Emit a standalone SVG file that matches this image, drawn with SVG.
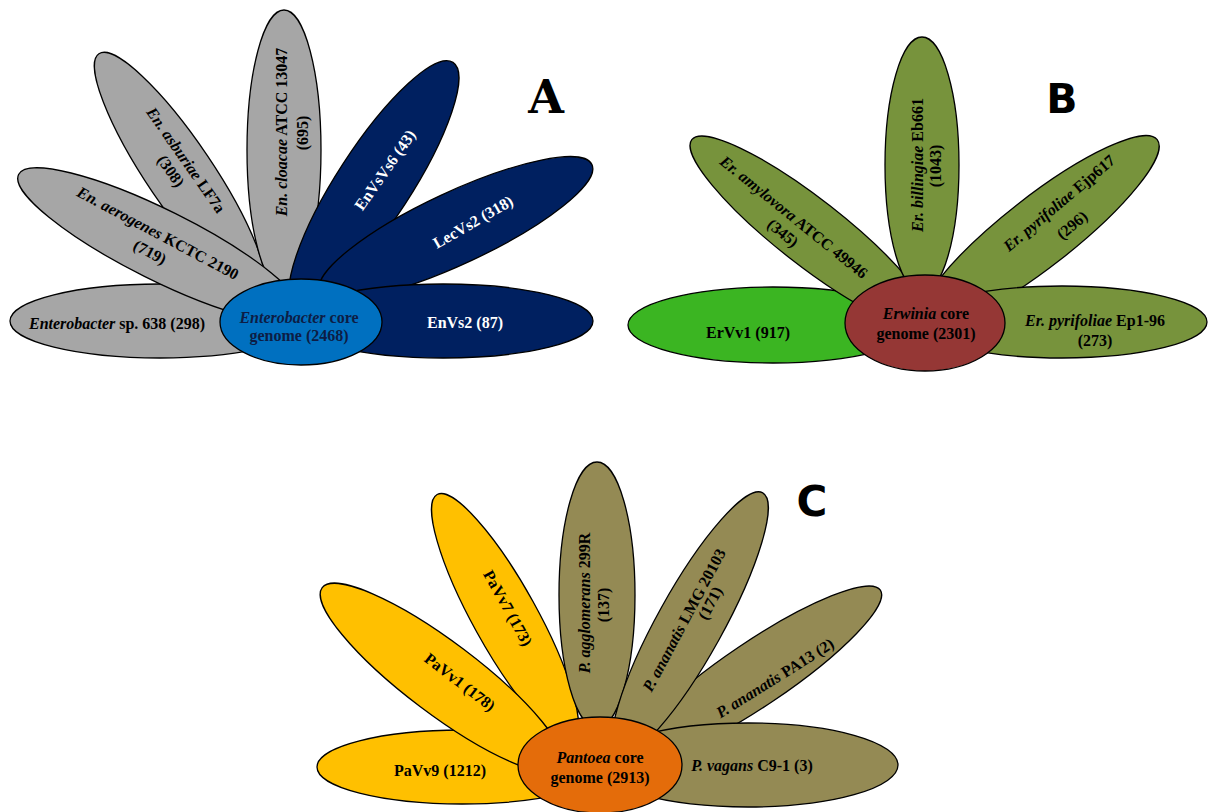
<svg xmlns="http://www.w3.org/2000/svg" width="1208" height="812" viewBox="0 0 1208 812">
<style>
.p{stroke:#000;stroke-width:1.3}
.gray{fill:#a6a6a6}.navy{fill:#002060}.blue{fill:#0070c0}
.olive{fill:#77933c}.lime{fill:#3bb522}.red{fill:#953735}
.yel{fill:#ffc000}.tan{fill:#948a54}.org{fill:#e46c0a}
.t{font-family:"Liberation Serif","Times New Roman",serif;font-weight:bold;font-size:16px;text-anchor:middle;fill:#000}
.i{font-style:italic}
.w{fill:#fff}
.nv{fill:#0d1d45}
.lbl{font-weight:bold;text-anchor:middle;fill:#000}
</style>
<rect width="1208" height="812" fill="#fff"/>

<!-- Panel A -->
<g id="A-asburiae"><ellipse class="p gray" cx="180" cy="174" rx="145" ry="33" transform="rotate(56 180 174)"/>
<text class="t" transform="translate(186,160) rotate(55)" y="5.5"><tspan class="i">En. asburiae</tspan> LF7a</text>
<text class="t" transform="translate(171,171) rotate(55)" y="5.5">(308)</text></g>
<g id="A-cloacae"><ellipse class="p gray" cx="284" cy="150" rx="37" ry="140"/>
<text class="t" transform="translate(281,132) rotate(-90)" y="5.5"><tspan class="i">En. cloacae</tspan> ATCC 13047</text>
<text class="t" transform="translate(302,133) rotate(-90)" y="5.5">(695)</text></g>
<g id="A-sp638"><ellipse class="p gray" cx="160" cy="321" rx="150" ry="37"/>
<text class="t" x="117" y="328.5"><tspan class="i">Enterobacter</tspan> sp.  638 (298)</text></g>
<g id="A-aerogenes"><ellipse class="p gray" cx="160" cy="245" rx="158" ry="35" transform="rotate(26.5 160 245)"/>
<text class="t" transform="translate(158,233) rotate(28)" y="5.5"><tspan class="i">En. aerogenes</tspan> KCTC 2190</text>
<text class="t" transform="translate(150,252) rotate(28)" y="5.5">(719)</text></g>
<g id="A-EnVsVs6"><ellipse class="p navy" cx="374" cy="184" rx="145" ry="37" transform="rotate(-57 374 184)"/>
<text class="t w" transform="translate(385,170) rotate(-55)" y="5.5">EnVsVs6 (43)</text></g>
<g id="A-LecVs2"><ellipse class="p navy" cx="456" cy="228" rx="150" ry="36" transform="rotate(-25 456 228)"/>
<text class="t w" transform="translate(473,222) rotate(-30)" y="5.5">LecVs2 (318)</text></g>
<g id="A-EnVs2"><ellipse class="p navy" cx="443" cy="321" rx="150" ry="37"/>
<text class="t w" x="465" y="327.5">EnVs2 (87)</text></g>
<g id="A-core"><ellipse class="p blue" cx="301" cy="322" rx="81" ry="43"/>
<text class="t nv" x="299" y="322.5"><tspan class="i">Enterobacter</tspan> core</text>
<text class="t nv" x="299" y="341">genome (2468)</text></g>
<text class="lbl" x="546" y="113" style="font-family:'DejaVu Serif',serif;font-size:46px">A</text>

<!-- Panel B -->
<g id="B-ErVv1"><ellipse class="p lime" cx="773" cy="325" rx="145" ry="38"/>
<text class="t" x="748" y="337.5">ErVv1 (917)</text></g>
<g id="B-amylovora"><ellipse class="p olive" cx="810" cy="232" rx="150" ry="33" transform="rotate(38 810 232)"/>
<text class="t" transform="translate(794,217) rotate(39)" y="5.5"><tspan class="i">Er. amylovora</tspan> ATCC 49946</text>
<text class="t" transform="translate(783,233) rotate(39)" y="5.5">(345)</text></g>
<g id="B-billingiae"><ellipse class="p olive" cx="922" cy="165" rx="37" ry="128"/>
<text class="t" transform="translate(917,165) rotate(-90)" y="5.5"><tspan class="i">Er. billingiae</tspan> Eb661</text>
<text class="t" transform="translate(935,166) rotate(-90)" y="5.5">(1043)</text></g>
<g id="B-Ejp617"><ellipse class="p olive" cx="1039" cy="232" rx="150" ry="35" transform="rotate(-38 1039 232)"/>
<text class="t" transform="translate(1059,203) rotate(-40)" y="5.5"><tspan class="i">Er. pyrifoliae</tspan> Ejp617</text>
<text class="t" transform="translate(1072,225) rotate(-40)" y="5.5">(296)</text></g>
<g id="B-Ep1-96"><ellipse class="p olive" cx="1062" cy="322" rx="145" ry="36"/>
<text class="t" x="1095" y="325.5"><tspan class="i">Er. pyrifoliae</tspan> Ep1-96</text>
<text class="t" x="1095" y="345.5">(273)</text></g>
<g id="B-core"><ellipse class="p red" cx="925" cy="323" rx="80" ry="48"/>
<text class="t" x="926" y="318.5"><tspan class="i">Erwinia</tspan> core</text>
<text class="t" x="926" y="338.5">genome (2301)</text></g>
<text class="lbl" x="1062" y="113" style="font-family:'DejaVu Sans',sans-serif;font-size:41px">B</text>

<!-- Panel C -->
<g id="C-PaVv9"><ellipse class="p yel" cx="462" cy="767" rx="145" ry="37"/>
<text class="t" x="440" y="775.5">PaVv9 (1212)</text></g>
<g id="C-PaVv7"><ellipse class="p yel" cx="505" cy="617" rx="140" ry="32" transform="rotate(61 505 617)"/>
<text class="t" transform="translate(508,608) rotate(61)" y="5.5">PaVv7 (173)</text></g>
<g id="C-PaVv1"><ellipse class="p yel" cx="442" cy="678" rx="150" ry="36" transform="rotate(37 442 678)"/>
<text class="t" transform="translate(460,682) rotate(37.5)" y="5.5">PaVv1 (178)</text></g>
<g id="C-PA13"><ellipse class="p tan" cx="756" cy="674" rx="150" ry="32" transform="rotate(-34 756 674)"/>
<text class="t" transform="translate(775,678) rotate(-32)" y="5.5"><tspan class="i">P. ananatis</tspan> PA13 (2)</text></g>
<g id="C-agglomerans"><ellipse class="p tan" cx="597" cy="595" rx="38" ry="133"/>
<text class="t" transform="translate(584,603) rotate(-90)" y="5.5"><tspan class="i">P.  agglomerans</tspan> 299R</text>
<text class="t" transform="translate(603,605) rotate(-90)" y="5.5">(137)</text></g>
<g id="C-LMG20103"><ellipse class="p tan" cx="690" cy="624" rx="150" ry="33" transform="rotate(-61 690 624)"/>
<text class="t" transform="translate(684,620) rotate(-62)" y="5.5"><tspan class="i">P. ananatis</tspan> LMG 20103</text>
<text class="t" transform="translate(710,603) rotate(-62)" y="5.5">(171)</text></g>
<g id="C-vagans"><ellipse class="p tan" cx="748" cy="765" rx="150" ry="42"/>
<text class="t" x="752" y="770.5"><tspan class="i">P. vagans</tspan> C9-1 (3)</text></g>
<g id="C-core"><ellipse class="p org" cx="600" cy="765" rx="82" ry="48"/>
<text class="t" x="600" y="762.5"><tspan class="i">Pantoea</tspan> core</text>
<text class="t" x="600" y="782.5">genome (2913)</text></g>
<text class="lbl" x="812" y="516" style="font-family:'DejaVu Sans',sans-serif;font-size:42px">C</text>
</svg>
